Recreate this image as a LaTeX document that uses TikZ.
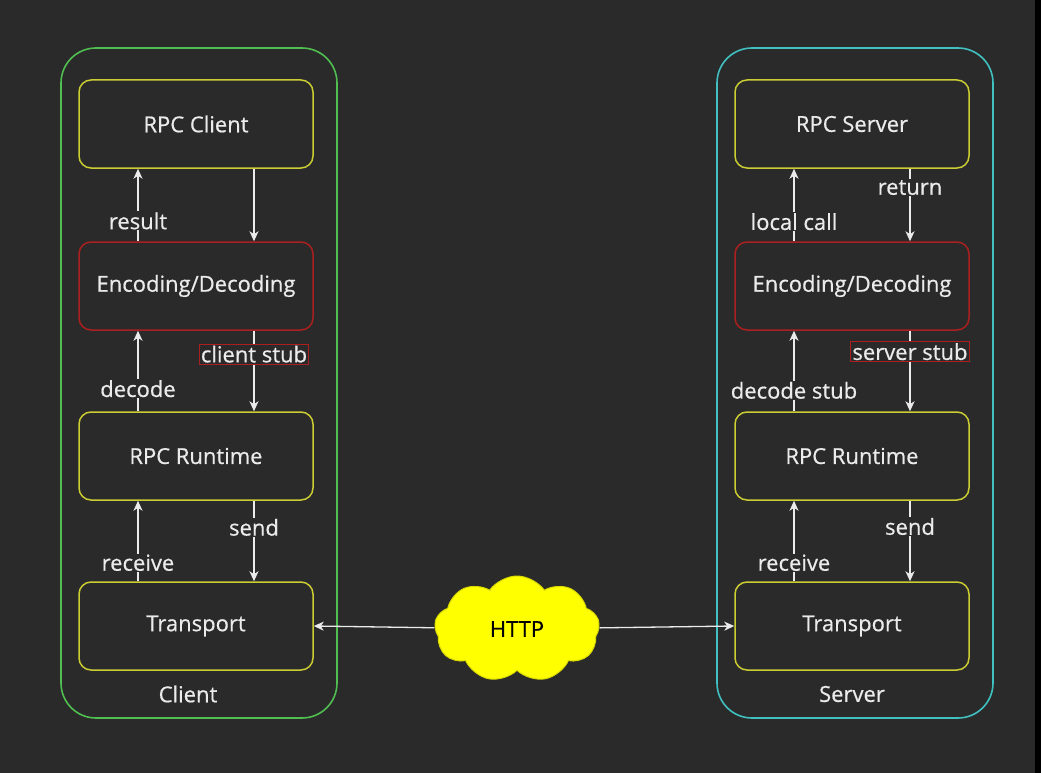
\documentclass[tikz,border=0pt]{standalone}
\usepackage{fontspec}
\setmainfont[FakeBold=0.6]{Open Sans}
\usetikzlibrary{arrows.meta,positioning,shapes.symbols}
\definecolor{bgdark}{RGB}{42,42,42}
\definecolor{txtwhite}{RGB}{235,235,235}
\definecolor{boxyellow}{RGB}{204,204,51}
\definecolor{boxred}{RGB}{170,32,32}
\definecolor{clientgreen}{RGB}{80,190,80}
\definecolor{servercyan}{RGB}{64,192,192}
\definecolor{httpyellow}{RGB}{255,255,0}
\tikzset{
  >={Stealth[length=10pt,width=9pt,inset=3pt]},
  layer/.style={draw=boxyellow,line width=1.5pt,rounded corners=12pt,minimum width=234,minimum height=88,text=txtwhite,font=\fontsize{22}{26}\selectfont},
  codec/.style={layer,draw=boxred},
  side/.style={line width=1.6pt,rounded corners=35pt,minimum width=276,minimum height=670},
  arr/.style={->,draw=txtwhite,line width=1.3pt},
  lbl/.style={fill=bgdark,text=txtwhite,inner sep=1pt,font=\fontsize{22}{26}\selectfont},
  stub/.style={lbl,draw=boxred,line width=1pt,inner sep=1.5pt},
}
\begin{document}
\begin{tikzpicture}[x=1pt,y=-1pt]
        \fill[bgdark] (0,0) rectangle (1041,773);
        \fill[black] (1035,0) rectangle (1041,773);
        \useasboundingbox (0,0) rectangle (1041,773);

        % client side
        \node[side,draw=clientgreen] (cbox) at (199,383) {};
        \node[layer] (c0) at (196,124) {RPC Client};
        \node[codec] (c1) [below=72.5pt of c0] {Encoding/Decoding};
        \node[layer] (c2) [below=80.5pt of c1] {RPC Runtime};
        \node[layer] (c3) [below=80.5pt of c2] {Transport};
        \node[lbl] (clbl) at (188,694) {Client};

        % server side
        \node[side,draw=servercyan] (sbox) at (855,383) {};
        \node[layer] (s0) at (852,124) {RPC Server};
        \node[codec] (s1) [below=72.5pt of s0] {Encoding/Decoding};
        \node[layer] (s2) [below=80.5pt of s1] {RPC Runtime};
        \node[layer] (s3) [below=80.5pt of s2] {Transport};
        \node[lbl] (slbl) at (852,694) {Server};

        \node[cloud,cloud puffs=9,cloud puff arc=110,aspect=1.55,fill=httpyellow,draw=httpyellow!85!black,line width=1pt,minimum width=165,minimum height=106,font=\fontsize{22}{26}\selectfont] (http) at (517,629) {HTTP};

        \draw[arr] ([xshift=-58pt]c1.north) -- node[lbl,pos=0.28] {result} ([xshift=-58pt]c0.south);
        \draw[arr] ([xshift=58pt]c0.south) -- ([xshift=58pt]c1.north);
        \draw[arr] ([xshift=-58pt]c2.north) -- node[lbl,pos=0.28] {decode} ([xshift=-58pt]c1.south);
        \draw[arr] ([xshift=58pt]c1.south) -- node[stub,pos=0.29] {client stub} ([xshift=58pt]c2.north);
        \draw[arr] ([xshift=-58pt]c3.north) -- node[lbl,pos=0.23] {receive} ([xshift=-58pt]c2.south);
        \draw[arr] ([xshift=58pt]c2.south) -- node[lbl,pos=0.33] {send} ([xshift=58pt]c3.north);

        \draw[arr] ([xshift=-58pt]s1.north) -- node[lbl,pos=0.27] {local call} ([xshift=-58pt]s0.south);
        \draw[arr] ([xshift=58pt]s0.south) -- node[lbl,pos=0.26] {return} ([xshift=58pt]s1.north);
        \draw[arr] ([xshift=-58pt]s2.north) -- node[lbl,pos=0.26] {decode stub} ([xshift=-58pt]s1.south);
        \draw[arr] ([xshift=58pt]s1.south) -- node[stub,pos=0.26] {server stub} ([xshift=58pt]s2.north);
        \draw[arr] ([xshift=-58pt]s3.north) -- node[lbl,pos=0.23] {receive} ([xshift=-58pt]s2.south);
        \draw[arr] ([xshift=58pt]s2.south) -- node[lbl,pos=0.32] {send} ([xshift=58pt]s3.north);

        \draw[arr] (http) -- (c3.east);
        \draw[arr] (http) -- (s3.west);

    \end{tikzpicture}
\end{document}
